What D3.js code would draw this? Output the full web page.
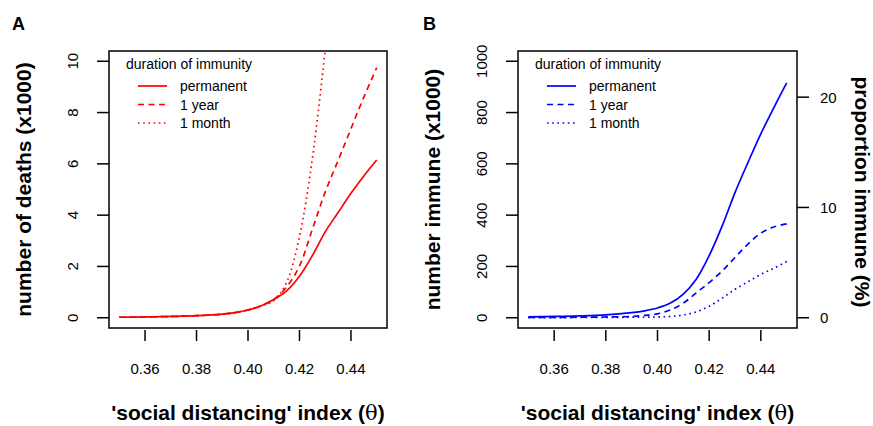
<!DOCTYPE html>
<html>
<head>
<meta charset="utf-8">
<script src="https://cdn.jsdelivr.net/npm/d3@7"></script>
<style>
  body { margin: 0; background: #fff; }
  text { font-family: "Liberation Sans", Arial, Helvetica, sans-serif; }
</style>
</head>
<body>
<div id="chart"></div>
<script>
var theta = [ 0.35, 0.36, 0.37, 0.38, 0.39, 0.395, 0.40, 0.405, 0.41, 0.415,
              0.42, 0.425, 0.43, 0.435, 0.44, 0.445, 0.45 ];

// panel A: deaths (x1000)
var deathsPermanent = [ 0.02, 0.03, 0.05, 0.08, 0.14, 0.20, 0.30, 0.46, 0.71, 1.05,
                        1.62, 2.42, 3.35, 4.10, 4.85, 5.53, 6.15 ];
var deathsYear      = [ 0.02, 0.03, 0.05, 0.08, 0.14, 0.20, 0.30, 0.46, 0.72, 1.20,
                        2.02, 3.45, 4.90, 6.13, 7.37, 8.60, 9.75 ];
var deathsMonth     = [ 0.02, 0.03, 0.05, 0.08, 0.14, 0.20, 0.31, 0.47, 0.66, 1.38,
                        3.17, 6.20, 10.45, null, null, null, null ];

// panel B: number immune (x1000)
var immunePermanent = [ 3, 5, 7, 11, 20, 27, 38, 57, 92, 150, 242, 357, 488, 605, 717, 818, 916 ];
var immuneYear      = [ 1, 1, 2, 3, 5, 9, 15, 31, 57, 97, 137, 182, 235, 287, 330, 354, 366 ];
var immuneMonth     = [ 0.5, 0.5, 1, 1, 2, 2, 3, 5, 11, 23, 45, 76, 111, 140, 169, 193, 219 ];
var populationThousands = 4300;

var xTicks = [ 0.36, 0.38, 0.40, 0.42, 0.44 ];
var deathTicks = [ 0, 2, 4, 6, 8, 10 ];
var immuneTicks = [ 0, 200, 400, 600, 800, 1000 ];
var percentTicks = [ 0, 10, 20 ];
var legendLabels = [ 'permanent', '1 year', '1 month' ];
var dashes = [ null, '6,4.5', '1.6,3.6' ];

var width = 873, height = 426;

var svg = d3.select('#chart').append('svg')
            .attr('width', width).attr('height', height);

svg.append('rect').attr('width', width).attr('height', height).attr('fill', '#fff');

function rExtend(lo, hi) {
    // R style 4% axis padding
    var pad = (hi - lo) * 0.04;
    return [ lo - pad, hi + pad ];
}

function drawPanel(opts) {
    var left = opts.left, right = opts.right, top = 51, bottom = 328;

    var x = d3.scaleLinear().domain(rExtend(0.35, 0.45)).range([ left, right ]);
    var y = d3.scaleLinear().domain(rExtend(opts.yMin, opts.yMax)).range([ bottom, top ]);

    var g = svg.append('g');

    g.append('clipPath').attr('id', 'clip-' + opts.id)
     .append('rect')
     .attr('x', left).attr('y', top)
     .attr('width', right - left).attr('height', bottom - top);

    // panel letter
    g.append('text')
     .attr('x', opts.letterX).attr('y', 30)
     .attr('font-size', 18).attr('font-weight', 'bold')
     .text(opts.letter);

    // x ticks (R style, detached from box)
    xTicks.forEach(function(t) {
        g.append('line')
         .attr('x1', x(t)).attr('x2', x(t))
         .attr('y1', bottom + 2).attr('y2', bottom + 13)
         .attr('stroke', '#000').attr('stroke-width', 1.5);
        g.append('text')
         .attr('x', x(t)).attr('y', 373.5)
         .attr('text-anchor', 'middle').attr('font-size', 15)
         .text(t.toFixed(2));
    });

    // left y ticks
    opts.yTicks.forEach(function(t) {
        g.append('line')
         .attr('x1', left - 12).attr('x2', left)
         .attr('y1', y(t)).attr('y2', y(t))
         .attr('stroke', '#000').attr('stroke-width', 1.5);
        g.append('text')
         .attr('transform', 'translate(' + (left - 31) + ',' + y(t) + ') rotate(-90)')
         .attr('text-anchor', 'middle').attr('font-size', 15)
         .text(t);
    });

    // axis titles
    var xt = g.append('text')
              .attr('x', (left + right) / 2).attr('y', 420)
              .attr('text-anchor', 'middle').attr('font-size', 21).attr('font-weight', 'bold');
    xt.append('tspan').text("'social distancing' index (");
    xt.append('tspan').attr('font-weight', 'normal').attr('font-family', 'DejaVu Serif, serif').text('\u03b8');
    xt.append('tspan').text(')');

    g.append('text')
     .attr('transform', 'translate(' + (left - 78) + ',' + ((top + bottom) / 2) + ') rotate(-90)')
     .attr('text-anchor', 'middle').attr('font-size', 21).attr('font-weight', 'bold')
     .text(opts.yTitle);

    // curves
    var line = d3.line()
                 .defined(function(d) { return d[1] != null; })
                 .x(function(d) { return x(d[0]); })
                 .y(function(d) { return y(d[1]); })
                 .curve(d3.curveCatmullRom.alpha(0.5));

    opts.series.forEach(function(values, i) {
        g.append('path')
         .datum(theta.map(function(t, j) { return [ t, values[j] ]; }))
         .attr('clip-path', 'url(#clip-' + opts.id + ')')
         .attr('d', line)
         .attr('fill', 'none')
         .attr('stroke', opts.color).attr('stroke-width', 1.7)
         .attr('stroke-dasharray', dashes[i]);
    });

    // box
    g.append('rect')
     .attr('x', left).attr('y', top)
     .attr('width', right - left).attr('height', bottom - top)
     .attr('fill', 'none').attr('stroke', '#000').attr('stroke-width', 1.5);

    // legend
    g.append('text')
     .attr('x', left + 17).attr('y', 69)
     .attr('font-size', 14)
     .text('duration of immunity');
    legendLabels.forEach(function(label, i) {
        var ly = 86 + i * 18.5;
        g.append('line')
         .attr('x1', left + 29).attr('x2', left + 58)
         .attr('y1', ly).attr('y2', ly)
         .attr('stroke', opts.color).attr('stroke-width', 1.7)
         .attr('stroke-dasharray', dashes[i]);
        g.append('text')
         .attr('x', left + 71).attr('y', ly + 5)
         .attr('font-size', 14)
         .text(label);
    });

    return { x: x, y: y, g: g };
}

drawPanel({
    id: 'a', letter: 'A', letterX: 12,
    left: 109, right: 387,
    yMin: 0, yMax: 10, yTicks: deathTicks,
    yTitle: 'number of deaths (x1000)',
    color: '#ff0000',
    series: [ deathsPermanent, deathsYear, deathsMonth ]
});

var panelB = drawPanel({
    id: 'b', letter: 'B', letterX: 423,
    left: 518, right: 797,
    yMin: 0, yMax: 1000, yTicks: immuneTicks,
    yTitle: 'number immune (x1000)',
    color: '#0000ff',
    series: [ immunePermanent, immuneYear, immuneMonth ]
});

// right axis: proportion immune (%)
var yPct = d3.scaleLinear()
             .domain(panelB.y.domain().map(function(v) { return v / populationThousands * 100; }))
             .range(panelB.y.range());

percentTicks.forEach(function(t) {
    panelB.g.append('line')
          .attr('x1', 797).attr('x2', 809)
          .attr('y1', yPct(t)).attr('y2', yPct(t))
          .attr('stroke', '#000').attr('stroke-width', 1.5);
    panelB.g.append('text')
          .attr('x', 820).attr('y', yPct(t) + 5.5)
          .attr('font-size', 15)
          .text(t);
});

panelB.g.append('text')
      .attr('transform', 'translate(855,' + 192 + ') rotate(90)')
      .attr('text-anchor', 'middle').attr('font-size', 21).attr('font-weight', 'bold')
      .text('proportion immune (%)');
</script>
</body>
</html>
